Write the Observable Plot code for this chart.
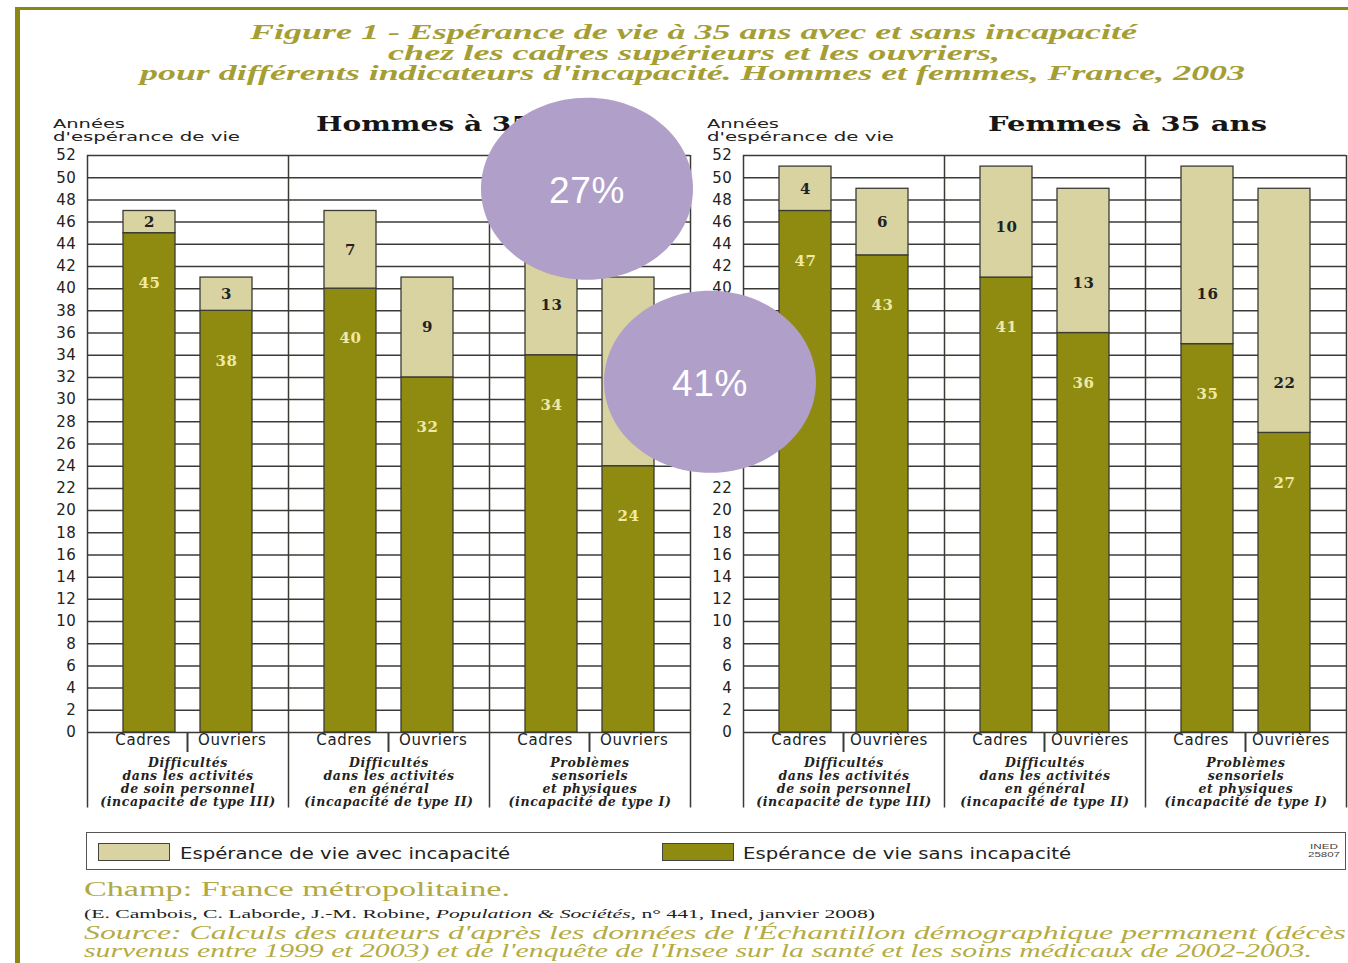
<!DOCTYPE html>
<html><head><meta charset="utf-8">
<script src="https://cdn.jsdelivr.net/npm/d3@7"></script>
<script src="https://cdn.jsdelivr.net/npm/@observablehq/plot@0.6"></script>
<style>
html,body{margin:0;padding:0;background:#fff;}
body{width:1348px;height:963px;overflow:hidden;position:relative;}
.t{position:absolute;white-space:nowrap;line-height:1;}
.chart{position:absolute;}
</style></head><body>
<script>
// ---------- data ----------
const groupKeys = ["III", "II", "I"];
const groupLabels = [
  "Difficultés\ndans les activités\nde soin personnel\n(incapacité de type III)",
  "Difficultés\ndans les activités\nen général\n(incapacité de type II)",
  "Problèmes\nsensoriels\net physiques\n(incapacité de type I)"
];
const yTicks = [0,2,4,6,8,10,12,14,16,18,20,22,24,26,28,30,32,34,36,38,40,42,44,46,48,50,52];
const hommesCats = ["Cadres", "Ouvriers"];
const femmesCats = ["Cadres", "Ouvrières"];
const hommesCadresSans = [45, 40, 34];
const hommesCadresAvec = [2, 7, 13];
const hommesOuvriersSans = [38, 32, 24];
const hommesOuvriersAvec = [3, 9, 17];
const femmesCadresSans = [47, 41, 35];
const femmesCadresAvec = [4, 10, 16];
const femmesOuvrieresSans = [43, 36, 27];
const femmesOuvrieresAvec = [6, 13, 22];
const calloutText = ["27%", "41%"];
const calloutY = [49, 31.6];

// ---------- style ----------
const olive = "#8e8b10", beige = "#d8d3a0", pale = "#f0e9a6", ink = "#3b3b36";
const titleCol = "#a59e34";

function txt(s, o) {
  const el = document.createElement("div");
  el.className = "t";
  if (o.html) el.innerHTML = s; else el.textContent = s;
  el.style.font = o.font;
  el.style.color = o.color || "#111";
  if (o.ls) el.style.letterSpacing = o.ls;
  document.body.appendChild(el);
  const size = parseFloat(o.font.match(/([\d.]+)px/)[1]);
  el.style.top = (o.cy - size / 2) + "px";
  const w = el.getBoundingClientRect().width;
  el.style.left = o.x1 + "px";
  if (o.x2 !== undefined) {
    el.style.transformOrigin = "0 0";
    el.style.transform = `scaleX(${(o.x2 - o.x1) / w})`;
  }
  return el;
}
function box(o) {
  const el = document.createElement("div");
  el.style.position = "absolute";
  Object.assign(el.style, o);
  document.body.appendChild(el);
  return el;
}

// frame of the figure
box({left: "15px", top: "8px", width: "5px", height: "960px", background: "#8a8712"});
box({left: "15px", top: "7px", width: "1333px", height: "3px", background: "#8a8712"});

// title
const tf = "italic bold 20px 'Liberation Serif'";
txt("Figure 1 - Espérance de vie à 35 ans avec et sans incapacité", {x1: 250, x2: 1137, cy: 31, font: tf, color: titleCol});
txt("chez les cadres supérieurs et les ouvriers,", {x1: 388, x2: 1000, cy: 52, font: tf, color: titleCol});
txt("pour différents indicateurs d'incapacité. Hommes et femmes, France, 2003", {x1: 140, x2: 1245, cy: 72, font: tf, color: titleCol});

// panel titles
txt("Hommes à 35 ans", {x1: 316, x2: 595, cy: 121, font: "bold 21px 'DejaVu Serif'", color: "#161616"});
txt("Femmes à 35 ans", {x1: 988, x2: 1267, cy: 121, font: "bold 21px 'DejaVu Serif'", color: "#161616"});
// y labels
for (const x0 of [53, 707]) {
  txt("Années", {x1: x0, x2: x0 + 72, cy: 122, font: "13px 'DejaVu Sans'", color: "#222"});
  txt("d'espérance de vie", {x1: x0, x2: x0 + 187, cy: 135, font: "13px 'DejaVu Sans'", color: "#222"});
}

// ---------- charts ----------
const ellipse = {
  draw(ctx, size) {
    const r = Math.sqrt(size / Math.PI), rx = r * 1.165, ry = r, k = 0.5523;
    ctx.moveTo(rx, 0);
    ctx.bezierCurveTo(rx, ry * k, rx * k, ry, 0, ry);
    ctx.bezierCurveTo(-rx * k, ry, -rx, ry * k, -rx, 0);
    ctx.bezierCurveTo(-rx, -ry * k, -rx * k, -ry, 0, -ry);
    ctx.bezierCurveTo(rx * k, -ry, rx, -ry * k, rx, 0);
    ctx.closePath();
  }
};

function panel(cats, sansA, avecA, sansB, avecB, o) {
  const rows = [];
  groupKeys.forEach((g, i) => {
    rows.push({group: g, cat: cats[0], sans: sansA[i], avec: avecA[i]});
    rows.push({group: g, cat: cats[1], sans: sansB[i], avec: avecB[i]});
  });
  rows.forEach(d => d.total = d.sans + d.avec);
  const labelOf = new Map(groupKeys.map((g, i) => [g, groupLabels[i]]));
  const marks = [
    Plot.ruleY(yTicks, {stroke: ink, strokeWidth: 1.5}),
    Plot.ruleX(groupKeys, {fx: d => d, x: () => cats[0], dx: -62, y1: 52, y2: -6.8, stroke: ink, strokeWidth: 1.5}),
    Plot.ruleX([groupKeys[2]], {fx: d => d, x: () => cats[1], dx: 62, y1: 52, y2: -6.8, stroke: ink, strokeWidth: 1.5}),
    Plot.barY(rows, {fx: "group", x: "cat", y1: 0, y2: "sans", fill: olive, stroke: ink, strokeWidth: 1.3}),
    Plot.barY(rows, {fx: "group", x: "cat", y1: "sans", y2: "total", fill: beige, stroke: ink, strokeWidth: 1.3}),
    Plot.text(rows, {fx: "group", x: "cat", y: d => d.sans - 4.5, text: d => String(d.sans), fill: pale,
      fontFamily: "DejaVu Serif", fontWeight: "bold", fontSize: 15}),
    Plot.text(rows, {fx: "group", x: "cat", y: d => d.sans + Math.min(d.avec / 2, 4.5), text: d => String(d.avec), fill: "#222",
      fontFamily: "DejaVu Serif", fontWeight: "bold", fontSize: 15}),
    Plot.ruleX(groupKeys, {fx: d => d, x: () => cats[1], dx: -39, y1: 0, y2: -1.8, stroke: ink, strokeWidth: 2}),
    Plot.text(groupKeys, {fx: d => d, text: () => cats[0], frameAnchor: "bottom", textAnchor: "end", dx: -17, dy: 12,
      fontFamily: "DejaVu Sans", fontSize: 15, fill: "#222"}),
    Plot.text(groupKeys, {fx: d => d, text: () => cats[1], frameAnchor: "bottom", textAnchor: "start", dx: o.wdx, dy: 12,
      fontFamily: "DejaVu Sans", fontSize: 15, fill: "#222"}),
    Plot.text(groupKeys, {fx: d => d, text: d => labelOf.get(d), frameAnchor: "bottom", lineAnchor: "top", dy: 25,
      fontFamily: "DejaVu Serif", fontStyle: "italic", fontWeight: "bold", fontSize: 12.5, lineHeight: 1.04, fill: "#222"})
  ];
  if (o.callouts) {
    const c = calloutText.map((t, i) => ({t, y: calloutY[i]}));
    marks.push(
      Plot.dot([c[0]], {fx: () => "I", y: "y", r: 91, symbol: ellipse, fill: "#b09fc8", stroke: "none", dx: -3}),
      Plot.dot([c[1]], {fx: () => "I", y: "y", r: 91, symbol: ellipse, fill: "#b09fc8", stroke: "none", dx: 120}),
      Plot.text([c[0]], {fx: () => "I", y: "y", text: "t", fill: "white", fontSize: 37, fontFamily: "Liberation Sans", dx: -3, dy: 2}),
      Plot.text([c[1]], {fx: () => "I", y: "y", text: "t", fill: "white", fontSize: 37, fontFamily: "Liberation Sans", dx: 120, dy: 2})
    );
  }
  return Plot.plot({
    width: o.width, height: 667,
    marginLeft: o.ml, marginRight: o.mr, marginTop: 10, marginBottom: 80,
    style: {background: "transparent", overflow: "visible", maxWidth: "none", fontFamily: "DejaVu Sans", fontSize: "15px", color: "#222", letterSpacing: "0.6px"},
    fx: {domain: groupKeys, padding: 0, axis: null, label: null},
    x: {domain: cats, paddingInner: 0.325, paddingOuter: 0.467, axis: null, label: null},
    y: {domain: [0, 52], ticks: yTicks, tickSize: 0, tickPadding: 11, label: null, axis: "left"},
    marks
  });
}

const left = panel(hommesCats, hommesCadresSans, hommesCadresAvec, hommesOuvriersSans, hommesOuvriersAvec,
  {width: 690, ml: 86, mr: 0, wdx: 10, callouts: true});
const right = panel(femmesCats, femmesCadresSans, femmesCadresAvec, femmesOuvrieresSans, femmesOuvrieresAvec,
  {width: 658, ml: 52, mr: 2, wdx: 6, callouts: false});
const wr = box({left: "690px", top: "145px", width: "658px", height: "667px"});
wr.appendChild(right);
const wl = box({left: "0px", top: "145px", width: "690px", height: "667px", zIndex: "5"});
wl.appendChild(left);

// ---------- legend ----------
box({left: "86px", top: "832px", width: "1258px", height: "36px", border: "1.5px solid #555"});
box({left: "98px", top: "843px", width: "70px", height: "16px", background: beige, border: "1.5px solid #444"});
box({left: "662px", top: "843px", width: "70px", height: "16px", background: olive, border: "1.5px solid #444"});
txt("Espérance de vie avec incapacité", {x1: 180, x2: 510, cy: 852, font: "15px 'DejaVu Sans'", color: "#222"});
txt("Espérance de vie sans incapacité", {x1: 743, x2: 1071, cy: 852, font: "15px 'DejaVu Sans'", color: "#222"});
txt("INED", {x1: 1310, x2: 1338, cy: 846, font: "8px 'Liberation Sans Narrow', 'Liberation Sans'", color: "#444"});
txt("25807", {x1: 1308, x2: 1340, cy: 854, font: "8px 'Liberation Sans Narrow', 'Liberation Sans'", color: "#444"});

// ---------- notes ----------
txt("Champ: France métropolitaine.", {x1: 84, x2: 510, cy: 888, font: "20px 'Liberation Serif'", color: "#b1a944"});
txt("(E. Cambois, C. Laborde, J.-M. Robine, <i>Population &amp; Sociétés</i>, n° 441, Ined, janvier 2008)",
  {x1: 84, x2: 875, cy: 912, font: "13px 'Liberation Serif'", color: "#222", html: true});
txt("Source: Calculs des auteurs d'après les données de l'Échantillon démographique permanent (décès",
  {x1: 84, x2: 1346, cy: 932, font: "italic 18px 'Liberation Serif'", color: "#b5ab44"});
txt("survenus entre 1999 et 2003) et de l'enquête de l'Insee sur la santé et les soins médicaux de 2002-2003.",
  {x1: 84, x2: 1312, cy: 950, font: "italic 18px 'Liberation Serif'", color: "#b5ab44"});
</script>
</body></html>
